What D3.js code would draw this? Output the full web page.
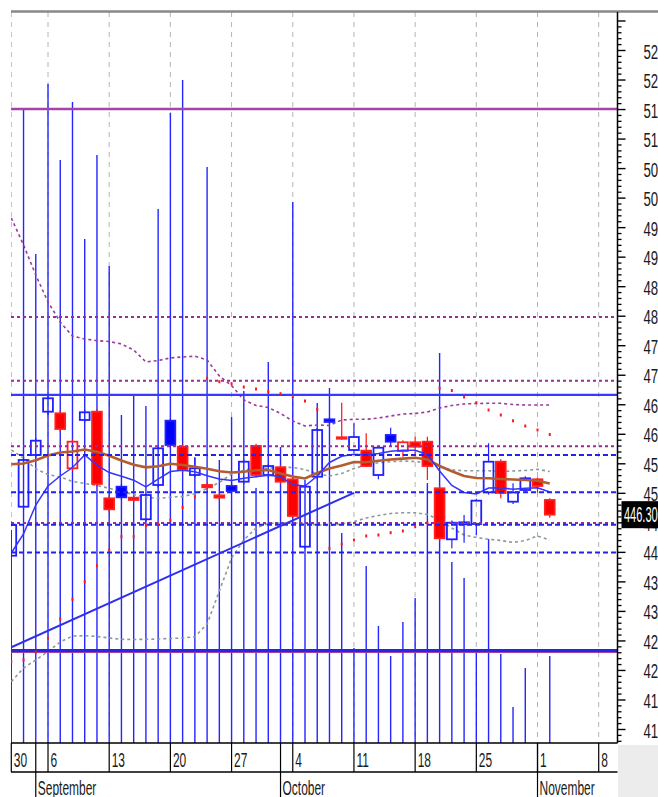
<!DOCTYPE html>
<html>
<head>
<meta charset="utf-8">
<script src="https://cdn.jsdelivr.net/npm/d3@7"></script>
<style>
  html, body { margin: 0; padding: 0; background: #fff; overflow: hidden; }
  svg { display: block; }
</style>
</head>
<body>
<main></main>
<script>
const width = 658;
const height = 797;

// one entry per trading day, index 0 = Aug 30
const open = [439.35, 447.65, 456.41, 463.74, 463.47, 454.15, 462.34, 463.74, 449.07, 451.04, 449.18, 445.52, 451.33, 462.22, 457.81, 453.02, 451.33, 449.58, 451.16, 451.89, 457.93, 453.02, 454.32, 452.29, 440.88, 452.73, 462.45, 459.41, 457.25, 457.14, 453.02, 459.8, 457.08, 458.56, 458.66, 450.77, 442.13, 444.67, 444.72, 450.09, 455.27, 448.5, 450.48, 452.29, 448.79];
const high = [445.2, 456.0, 459.3, 466.5, 463.9, 459.1, 464.0, 464.1, 449.5, 451.5, 449.5, 449.9, 457.9, 462.6, 458.2, 456.07, 451.7, 449.9, 451.9, 455.6, 458.3, 454.9, 454.7, 452.7, 451.4, 461.0, 462.8, 465.27, 461.78, 460.08, 457.9, 461.03, 458.9, 459.51, 459.5, 451.2, 445.3, 446.25, 449.0, 458.39, 455.68, 451.61, 452.8, 452.6, 449.07];
const low = [438.8, 447.2, 455.9, 463.2, 460.4, 453.7, 461.9, 451.1, 446.8, 448.8, 448.4, 445.1, 450.9, 457.7, 453.5, 452.6, 450.6, 448.8, 449.9, 451.5, 452.6, 452.6, 451.5, 445.7, 440.5, 452.3, 461.6, 459.0, 456.8, 454.37, 452.29, 457.93, 456.12, 456.41, 452.17, 441.9, 440.61, 441.55, 442.86, 449.7, 449.07, 448.1, 450.1, 450.02, 445.79];
const close = [444.55, 455.56, 458.83, 466.01, 460.81, 458.66, 463.64, 451.5, 447.21, 449.24, 448.79, 449.63, 457.54, 458.1, 453.87, 454.15, 450.94, 449.18, 450.31, 455.27, 453.02, 454.54, 451.89, 446.08, 451.04, 460.64, 462.0, 459.35, 459.45, 454.54, 457.64, 458.66, 458.56, 457.81, 454.54, 442.3, 444.94, 445.01, 448.67, 455.27, 449.97, 450.06, 452.46, 451.16, 446.3];
const volume = [2130, 6330, 4890, 6590, 5830, 6410, 5040, 5880, 4770, 3280, 3480, 3370, 5340, 6300, 6630, 2850, 5760, 2830, 3260, 3520, 2550, 3810, 2960, 5410, 2630, 3400, 3550, 2100, 950, 1770, 1170, 870, 1210, 1450, 2600, 3900, 1810, 1650, 910, 2040, 890, 360, 750, 0, 870];

const maShort = [439.81, 443.03, 447.94, 451.16, 452.85, 454.29, 456.41, 454.71, 453.44, 452.8, 452.14, 450.99, 452.34, 453.61, 453.83, 453.56, 452.88, 452.34, 452.09, 452.48, 452.73, 452.99, 452.77, 451.36, 451.16, 452.85, 455.14, 456.19, 456.54, 456.41, 456.66, 457.03, 457.2, 457.2, 456.49, 453.7, 451.24, 450.06, 449.8, 450.82, 450.85, 450.61, 450.78, 450.85, 450.13];
const maLong = [454.83, 454.97, 455.51, 456.32, 456.83, 457.0, 457.34, 456.97, 456.27, 455.48, 454.75, 454.32, 454.51, 454.92, 454.71, 454.41, 454.07, 453.65, 453.44, 453.58, 453.83, 453.87, 453.27, 452.77, 452.43, 453.36, 454.12, 454.61, 455.22, 455.17, 455.44, 455.64, 455.8, 455.93, 455.64, 454.54, 453.66, 452.85, 452.51, 452.46, 452.34, 452.26, 452.16, 452.05, 451.58];
const bandUpper = [496.55, 491.98, 486.89, 482.32, 478.93, 476.56, 476.05, 475.77, 475.63, 475.21, 474.19, 472.16, 472.41, 472.84, 473.01, 473.14, 472.5, 469.79, 468.18, 465.72, 464.79, 464.45, 463.44, 462.17, 461.32, 461.49, 461.4, 462.34, 462.45, 462.45, 462.67, 463.01, 463.35, 463.44, 463.69, 464.37, 464.79, 465.05, 465.13, 465.16, 465.16, 464.96, 464.88, 464.88, 464.88];
const envUpper = [457.25, 455.9, 454.04, 453.1, 452.68, 451.92, 451.58, 451.24, 450.77, 450.23, 449.72, 449.24, 449.07, 449.24, 449.38, 449.84, 450.73, 451.75, 453.19, 453.82, 454.12, 454.15, 454.37, 454.29, 453.95, 453.19, 452.85, 453.27, 454.12, 454.71, 455.09, 455.27, 455.39, 455.31, 455.05, 454.46, 453.87, 453.75, 453.75, 453.75, 453.61, 453.7, 453.78, 453.99, 453.61];
const envLower = [418.01, 420.33, 421.69, 423.13, 424.74, 425.75, 425.8, 425.67, 425.41, 425.19, 425.16, 425.19, 425.24, 425.33, 425.41, 425.63, 427.78, 433.37, 438.96, 442.01, 444.04, 444.81, 444.89, 444.89, 444.81, 444.55, 444.47, 444.72, 445.11, 445.74, 446.16, 446.5, 446.63, 446.63, 446.33, 445.4, 444.04, 442.86, 442.43, 442.13, 441.93, 441.59, 441.93, 442.69, 442.01];
const sar = [421.4, 421.69, 423.04, 425.36, 428.63, 431.97, 434.95, 437.66, 440.32, 442.57, 442.57, 444.47, 444.72, 445.4, 447.52, 449.34, 469.4, 468.82, 468.48, 467.92, 467.59, 467.16, 466.79, 466.28, 465.55, 464.11, 440.6, 441.33, 442.01, 442.69, 442.86, 443.25, 443.54, 444.26, 444.89, 467.7, 467.33, 466.23, 465.26, 464.03, 463.18, 462.2, 461.32, 460.64, 459.88];

// horizontal levels (prices)
const purpleSolidLevels = [515.0];
const purpleDotLevels = [479.8, 469.0, 457.9, 444.9];
const blueSolidLevels = [466.6];
const blueDotLevels = [456.4, 450.1, 444.6, 439.9];
const supportLevel = 423.3;
const trendLine = [{ i: 0, p: 423.84 }, { i: 28, p: 450.0 }];

// x axis
const weekIndex = [0, 3, 8, 13, 18, 23, 28, 33, 38, 43, 48];
const weekLabels = ["30", "6", "13", "20", "27", "4", "11", "18", "25", "1", "8"];
const monthIndex = [2, 22, 43];
const monthLabels = ["September", "October", "November"];

const plot = { left: 11, right: 617.5, top: 12, bottom: 743 };
const squeeze = 0.57; // the reference glyphs are narrow

const svg = d3.select("main").append("svg")
  .attr("width", width)
  .attr("height", height)
  .attr("viewBox", `0 0 ${width} ${height}`);

svg.append("rect").attr("width", width).attr("height", height).attr("fill", "#fff");

const x = d3.scaleLinear().domain([0, 48]).range([11.3, 598.7]);
const y = d3.scaleLinear().domain([410, 525]).range([729, 50]);
const v = d3.scaleLinear().domain([0, 7000]).range([plot.bottom, 43]);

svg.append("clipPath").attr("id", "clip")
  .append("rect")
  .attr("x", plot.left).attr("y", plot.top)
  .attr("width", plot.right - plot.left).attr("height", plot.bottom - plot.top);

const chart = svg.append("g").attr("clip-path", "url(#clip)");

// weekly grid
chart.selectAll(".grid").data(weekIndex).enter().append("line")
  .attr("class", "grid")
  .attr("x1", (d) => x(d)).attr("x2", (d) => x(d))
  .attr("y1", plot.top).attr("y2", plot.bottom)
  .attr("stroke", "#b4b4b4").attr("stroke-width", 1)
  .attr("stroke-dasharray", "5,5");

// volume
chart.selectAll(".vol").data(volume).enter().append("line")
  .attr("class", "vol")
  .attr("x1", (d, i) => x(i)).attr("x2", (d, i) => x(i))
  .attr("y1", plot.bottom).attr("y2", (d) => v(d))
  .attr("stroke", "#2525ff").attr("stroke-width", 1.4);

// bands
const line = (arr) => d3.line().x((d, i) => x(i)).y((d) => y(d))(arr);

chart.append("path").attr("d", line(envUpper))
  .attr("fill", "none").attr("stroke", "#8a9a9a").attr("stroke-width", 1.6)
  .attr("stroke-dasharray", "3,3");
chart.append("path").attr("d", line(envLower))
  .attr("fill", "none").attr("stroke", "#8a9a9a").attr("stroke-width", 1.6)
  .attr("stroke-dasharray", "3,3");
chart.append("path").attr("d", line(bandUpper))
  .attr("fill", "none").attr("stroke", "#9a3a9a").attr("stroke-width", 1.6)
  .attr("stroke-dasharray", "3,3");

// candles
const candles = open.map((o, i) => ({
  i, o, h: high[i], l: low[i], c: close[i],
  up: close[i] >= o,
  rise: i === 0 || close[i] >= close[i - 1],
}));
const bodyW = 9.8;
const candle = chart.selectAll(".candle").data(candles).enter().append("g").attr("class", "candle");

candle.append("line")
  .attr("x1", (d) => x(d.i)).attr("x2", (d) => x(d.i))
  .attr("y1", (d) => y(d.h)).attr("y2", (d) => y(Math.max(d.o, d.c)))
  .attr("stroke", (d) => (d.rise ? "#2020ff" : "#ff1010")).attr("stroke-width", 1.2);
candle.append("line")
  .attr("x1", (d) => x(d.i)).attr("x2", (d) => x(d.i))
  .attr("y1", (d) => y(Math.min(d.o, d.c))).attr("y2", (d) => y(d.l))
  .attr("stroke", (d) => (d.rise ? "#2020ff" : "#ff1010")).attr("stroke-width", 1.2);
candle.append("rect")
  .attr("x", (d) => x(d.i) - bodyW / 2)
  .attr("y", (d) => y(Math.max(d.o, d.c)))
  .attr("width", bodyW)
  .attr("height", (d) => Math.max(1.5, Math.abs(y(d.o) - y(d.c))))
  .attr("fill", (d) => (d.up ? "none" : d.rise ? "#0000ff" : "#ff0000"))
  .attr("stroke", (d) => (d.rise ? "#2020ff" : "#ff2020"))
  .attr("stroke-width", 1.8);

// moving averages
chart.append("path").attr("d", line(maLong))
  .attr("fill", "none").attr("stroke", "#b25c30").attr("stroke-width", 2.6);
chart.append("path").attr("d", line(maShort))
  .attr("fill", "none").attr("stroke", "#3434ff").attr("stroke-width", 1.5);

// levels
const hLine = (p, color, w, dash) => {
  const l = chart.append("line")
    .attr("x1", plot.left).attr("x2", plot.right)
    .attr("y1", y(p)).attr("y2", y(p))
    .attr("stroke", color).attr("stroke-width", w);
  if (dash) l.attr("stroke-dasharray", dash);
};
purpleDotLevels.forEach((p) => hLine(p, "#982c98", 2, "3,3"));
blueDotLevels.forEach((p) => hLine(p, "#2222ee", 2, "5,3"));
blueSolidLevels.forEach((p) => hLine(p, "#3838ff", 2.2));
purpleSolidLevels.forEach((p) => hLine(p, "#a444a8", 2.4));
hLine(supportLevel - 0.25, "#a040a0", 2);
hLine(supportLevel, "#2626e6", 3);

chart.append("path")
  .attr("d", d3.line().x((d) => x(d.i)).y((d) => y(d.p))(trendLine))
  .attr("fill", "none").attr("stroke", "#2f2fee").attr("stroke-width", 2);

// parabolic SAR
chart.selectAll(".sar").data(sar).enter().append("rect")
  .attr("class", "sar")
  .attr("x", (d, i) => x(i) - 1).attr("y", (d) => y(d) - 1.5)
  .attr("width", 2).attr("height", 3)
  .attr("fill", "#ff1a1a");

// frame
svg.append("line")
  .attr("x1", plot.left).attr("x2", width)
  .attr("y1", plot.top - 0.5).attr("y2", plot.top - 0.5)
  .attr("stroke", "#888").attr("stroke-width", 2.5);

// price axis
const axis = svg.append("g").attr("transform", `translate(${plot.right},0)`);
axis.append("line")
  .attr("y1", plot.top).attr("y2", plot.bottom)
  .attr("stroke", "#000").attr("stroke-width", 1.5);

const minor = d3.range(408, 530).filter((d) => d % 5 !== 0);
axis.append("g")
  .call(d3.axisRight(y).tickValues(minor).tickSize(4).tickFormat(""))
  .call((g) => g.select(".domain").remove())
  .selectAll("line").attr("stroke", "#000").attr("stroke-width", 1.3);

const major = axis.append("g")
  .call(d3.axisRight(y).tickValues(d3.range(410, 531, 5)).tickSize(8)
    .tickFormat((d) => (d <= 525 ? d : "")))
  .call((g) => g.select(".domain").remove());
major.selectAll("line").attr("stroke", "#000").attr("stroke-width", 1.4);
major.selectAll("text")
  .attr("x", null).attr("dy", null)
  .attr("transform", `translate(26,8) scale(0.63,1)`)
  .attr("font-family", "'Liberation Sans', Arial, sans-serif")
  .attr("font-size", 21)
  .attr("fill", "#1a1a1a")
  .attr("text-anchor", "start");

// last price tag
const last = close[close.length - 1];
svg.append("rect")
  .attr("x", 621.5).attr("y", y(last) - 13.5)
  .attr("width", 40).attr("height", 27)
  .attr("fill", "#000");
svg.append("text")
  .attr("transform", `translate(624,${y(last) + 7.5}) scale(0.5,1)`)
  .attr("font-family", "'Liberation Sans', Arial, sans-serif")
  .attr("font-size", 22)
  .attr("fill", "#fff")
  .text(last.toFixed(3));

// date rows
svg.append("rect")
  .attr("x", plot.right + 0.5).attr("y", plot.bottom + 2)
  .attr("width", width - plot.right).attr("height", height - plot.bottom)
  .attr("fill", "#ececec");

const dates = svg.append("g");
dates.append("line")
  .attr("x1", plot.left).attr("x2", plot.right)
  .attr("y1", plot.bottom).attr("y2", plot.bottom)
  .attr("stroke", "#000").attr("stroke-width", 1.5);
dates.append("line")
  .attr("x1", plot.left).attr("x2", plot.right)
  .attr("y1", 772).attr("y2", 772)
  .attr("stroke", "#000").attr("stroke-width", 1.3);

dates.selectAll(".wk").data(weekIndex).enter().append("line")
  .attr("x1", (d) => x(d)).attr("x2", (d) => x(d))
  .attr("y1", plot.bottom).attr("y2", 772)
  .attr("stroke", "#000").attr("stroke-width", 1.2);
dates.selectAll(".wkl").data(weekIndex).enter().append("text")
  .attr("transform", (d) => `translate(${x(d) + 2.5},767) scale(${squeeze},1)`)
  .attr("font-family", "'Liberation Sans', Arial, sans-serif")
  .attr("font-size", 21)
  .attr("fill", "#1a1a1a")
  .text((d, i) => weekLabels[i]);

dates.selectAll(".mo").data(monthIndex).enter().append("line")
  .attr("x1", (d) => x(d)).attr("x2", (d) => x(d))
  .attr("y1", plot.bottom).attr("y2", height)
  .attr("stroke", "#000").attr("stroke-width", 1.2);
dates.selectAll(".mol").data(monthIndex).enter().append("text")
  .attr("transform", (d) => `translate(${x(d) + 2},795) scale(${squeeze},1)`)
  .attr("font-family", "'Liberation Sans', Arial, sans-serif")
  .attr("font-size", 21)
  .attr("fill", "#1a1a1a")
  .text((d, i) => monthLabels[i]);
</script>
</body>
</html>
